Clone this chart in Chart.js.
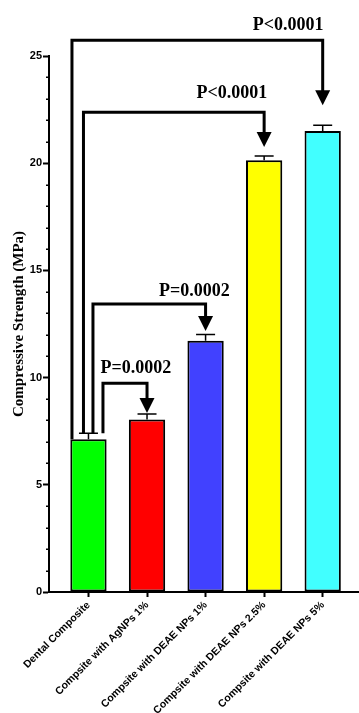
<!DOCTYPE html>
<html>
<head>
<meta charset="utf-8">
<script src="https://cdn.jsdelivr.net/npm/chart.js@4.4.0/dist/chart.umd.min.js"></script>
<style>
  html, body { margin: 0; padding: 0; background: #fff; }
  #wrap { width: 359px; height: 713px; position: relative; }
</style>
</head>
<body>
<div id="wrap"><canvas id="chart"></canvas></div>
<script>
/* DATA */
const categories = ['Dental Composite', 'Compsite with AgNPs 1%', 'Compsite with DEAE NPs 1%', 'Compsite with DEAE NPs 2.5%', 'Compsite with DEAE NPs 5%']
const strength = [7.13, 8.05, 11.72, 20.14, 21.5]
const sem = [0.27, 0.25, 0.29, 0.2, 0.27]
const barColors = ['#00ff00', '#ff0000', '#4141ff', '#ffff00', '#41ffff']
const yTicks = [0, 5, 10, 15, 20, 25]

// comparisons, all against Dental Composite (index 0)
const compTo = [1, 2, 3, 4]
const compLevel = [9.74, 13.43, 22.38, 25.73]
const compArrowTip = [8.35, 12.17, 20.75, 22.7]
const compLabel = ['P=0.0002', 'P=0.0002', 'P<0.0001', 'P<0.0001']

/* ANNOTATION LAYOUT (plugin only) */
const bracketLeftOffset = [14.5, 4.5, -5, -16.5]   // px from first bar centre
const labelAt = [[0.81, 10.21], [1.81, 13.8], [2.45, 23.03], [3.41, 26.2]]

const black = '#000'

const errorBars = {
  id: 'errorBars',
  afterDatasetsDraw(chart) {
    const { ctx, scales: { x, y } } = chart
    ctx.save()
    ctx.strokeStyle = black
    ctx.lineWidth = 1.5
    strength.forEach((v, i) => {
      const px = x.getPixelForValue(i)
      const top = y.getPixelForValue(v)
      const cap = y.getPixelForValue(v + sem[i])
      ctx.beginPath()
      ctx.moveTo(px, top)
      ctx.lineTo(px, cap)
      ctx.moveTo(px - 9.5, cap)
      ctx.lineTo(px + 9.5, cap)
      ctx.stroke()
    })
    ctx.restore()
  }
}

const minorTicks = {
  id: 'minorTicks',
  afterDraw(chart) {
    const { ctx, chartArea, scales: { y } } = chart
    ctx.save()
    ctx.strokeStyle = black
    ctx.lineWidth = 1.5
    for (let v = 1; v < 25; v++) {
      if (v % 5 === 0) continue
      const py = Math.round(y.getPixelForValue(v)) + 0.25
      ctx.beginPath()
      ctx.moveTo(chartArea.left - 3, py)
      ctx.lineTo(chartArea.left, py)
      ctx.stroke()
    }
    ctx.restore()
  }
}

const brackets = {
  id: 'brackets',
  afterDraw(chart) {
    const { ctx, scales: { x, y } } = chart
    const baseX = x.getPixelForValue(0)
    ctx.save()
    ctx.strokeStyle = black
    ctx.fillStyle = black
    ctx.lineWidth = 3
    ctx.lineJoin = 'miter'
    compTo.forEach((to, k) => {
      const x0 = baseX + bracketLeftOffset[k]
      const x1 = x.getPixelForValue(to)
      const yl = y.getPixelForValue(compLevel[k])
      const tip = y.getPixelForValue(compArrowTip[k])
      const bottom = k === compTo.length - 1
        ? y.getPixelForValue(strength[0])
        : y.getPixelForValue(strength[0] + sem[0])
      ctx.beginPath()
      ctx.moveTo(x0, bottom)
      ctx.lineTo(x0, yl)
      ctx.lineTo(x1, yl)
      ctx.lineTo(x1, tip - 13)
      ctx.stroke()
      ctx.beginPath()
      ctx.moveTo(x1 - 7.5, tip - 15)
      ctx.lineTo(x1 + 7.5, tip - 15)
      ctx.lineTo(x1, tip)
      ctx.closePath()
      ctx.fill()

      ctx.font = 'bold 18px "Liberation Serif"'
      ctx.textAlign = 'center'
      ctx.textBaseline = 'alphabetic'
      ctx.fillText(compLabel[k], x.getPixelForValue(labelAt[k][0]), y.getPixelForValue(labelAt[k][1]))
    })
    ctx.restore()
  }
}

new Chart(document.getElementById('chart'), {
  type: 'bar',
  data: {
    datasets: [{
      data: strength.map((v, i) => ({ x: i, y: v })),
      backgroundColor: barColors,
      borderColor: black,
      borderWidth: 2,
      borderSkipped: false,
      barPercentage: 0.62,
      categoryPercentage: 1
    }]
  },
  options: {
    responsive: true,
    maintainAspectRatio: false,
    animation: false,
    layout: { padding: { top: 56, left: 0, right: 0, bottom: 0 } },
    plugins: { legend: { display: false }, tooltip: { enabled: false } },
    scales: {
      x: {
        type: 'linear',
        offset: false,
        min: -0.674,
        max: 4.62,
        afterBuildTicks: s => { s.ticks = categories.map((c, i) => ({ value: i })) },
        afterFit: s => { s.height = 121; s.paddingLeft = 0; s.paddingRight = 0 },
        grid: { offset: false, drawOnChartArea: false, tickLength: 5, tickWidth: 2, tickColor: black },
        border: { display: true, color: black, width: 2 },
        ticks: {
          autoSkip: false,
          maxRotation: 45,
          minRotation: 45,
          padding: 2,
          color: black,
          font: { family: '"Liberation Sans"', size: 10.5, weight: 'bold' },
          callback: v => categories[v]
        }
      },
      y: {
        min: 0,
        max: 25,
        afterBuildTicks: s => { s.ticks = yTicks.map(v => ({ value: v })) },
        afterFit: s => { s.width = 49 },
        grid: { drawOnChartArea: false, tickLength: 6, tickWidth: 2, tickColor: black },
        border: { display: true, color: black, width: 2 },
        ticks: {
          padding: 1,
          color: black,
          font: { family: '"Liberation Sans"', size: 11, weight: 'bold' }
        },
        title: {
          display: true,
          text: 'Compressive Strength (MPa)',
          color: black,
          padding: { top: 10, bottom: 0 },
          font: { family: '"Liberation Serif"', size: 15, weight: 'bold' }
        }
      }
    }
  },
  plugins: [errorBars, minorTicks, brackets]
})
</script>
</body>
</html>
